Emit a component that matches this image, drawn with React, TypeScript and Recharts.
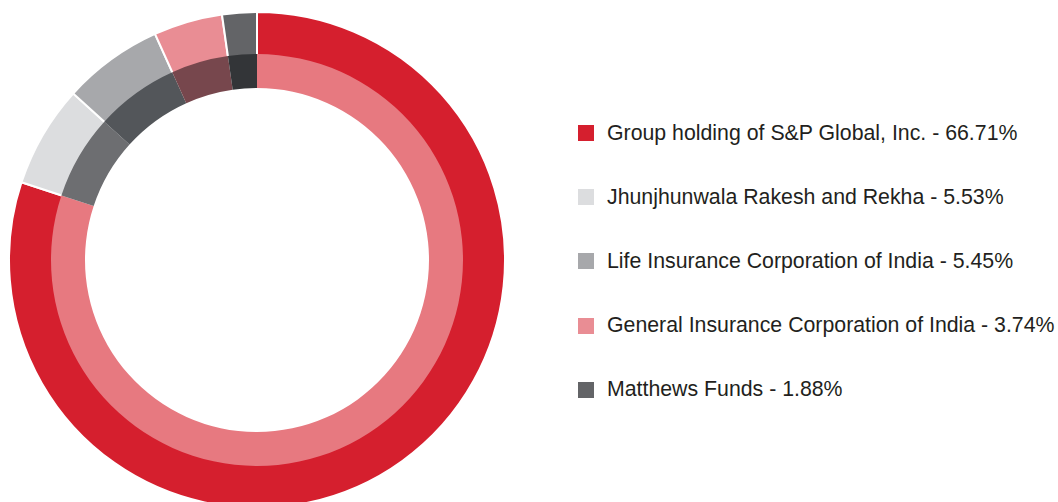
import React from 'react';
import { PieChart, Pie, Cell, Legend } from 'recharts';

const holders = [
  'Group holding of S&P Global, Inc.',
  'Jhunjhunwala Rakesh and Rekha',
  'Life Insurance Corporation of India',
  'General Insurance Corporation of India',
  'Matthews Funds',
];
const shares = [66.71, 5.53, 5.45, 3.74, 1.88];
const outerColors = ['#D51F2E', '#DCDDDF', '#A7A8AB', '#E98D94', '#636467'];
const innerColors = ['#E77980', '#6D6E71', '#53565A', '#77474D', '#333538'];

const data = holders.map((name, i) => ({ name, value: shares[i] }));

const LegendContent = () => (
  <div style={{ position: 'relative', width: 480, height: 502 }}>
    {data.map((d, i) => (
      <div
        key={d.name}
        style={{
          position: 'absolute',
          left: 0,
          top: 133 + i * 64.2 - 15,
          height: 30,
          display: 'flex',
          alignItems: 'center',
          whiteSpace: 'nowrap',
        }}
      >
        <span
          style={{
            display: 'inline-block',
            width: 16,
            height: 16,
            background: outerColors[i],
            marginRight: 13,
          }}
        />
        <span
          style={{
            fontFamily: '"Liberation Sans", Arial, sans-serif',
            fontSize: 21.3,
            color: '#231F20',
          }}
        >
          {`${d.name} - ${d.value.toFixed(2)}%`}
        </span>
      </div>
    ))}
  </div>
);

export default function App() {
  return (
    <div style={{ position: 'absolute', left: 0, top: 0, width: 1058, height: 502, background: '#fff' }}>
      <PieChart width={1058} height={502} margin={{ top: 0, right: 0, bottom: 0, left: 0 }}>
        <Pie
          data={data}
          dataKey="value"
          nameKey="name"
          cx={257}
          cy={260}
          startAngle={90}
          endAngle={-270}
          innerRadius={200}
          outerRadius={248}
          stroke="#ffffff"
          strokeWidth={2}
          isAnimationActive={false}
        >
          {data.map((d, i) => (
            <Cell key={d.name} fill={outerColors[i]} />
          ))}
        </Pie>
        <Pie
          data={data}
          dataKey="value"
          nameKey="name"
          cx={257}
          cy={260}
          startAngle={90}
          endAngle={-270}
          innerRadius={172}
          outerRadius={206}
          stroke="none"
          isAnimationActive={false}
        >
          {data.map((d, i) => (
            <Cell key={d.name} fill={innerColors[i]} />
          ))}
        </Pie>
        <Legend
          content={<LegendContent />}
          wrapperStyle={{ position: 'absolute', left: 578, top: 0, width: 480, height: 502 }}
        />
      </PieChart>
    </div>
  );
}
